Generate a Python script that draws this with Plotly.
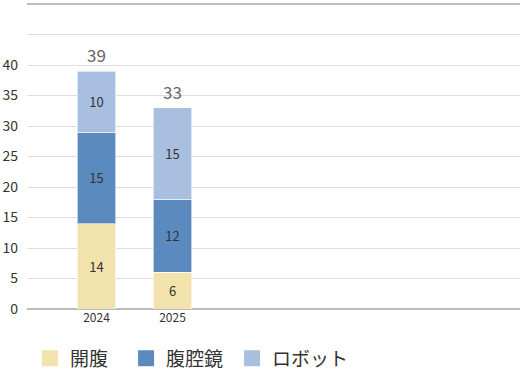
import plotly.graph_objects as go

years = ["2024", "2025"]
series_names = ["開腹", "腹腔鏡", "ロボット"]
open_surgery = [14, 6]
laparoscopic = [15, 12]
robot = [10, 15]
colors = ["#F2E3AD", "#5B8ABE", "#A9BFE0"]
y_ticks = [0, 5, 10, 15, 20, 25, 30, 35, 40, 45, 50]
y_tick_labels = ["0", "5", "10", "15", "20", "25", "30", "35", "40", "", ""]

series = [open_surgery, laparoscopic, robot]
totals = [sum(v) for v in zip(*series)]
xs = list(range(len(years)))

FONT = "Noto Sans CJK JP"
legend_ids = ["legend", "legend2", "legend3"]
legend_x = [0.006, 0.201, 0.416]

fig = go.Figure()
for name, vals, c, lid in zip(series_names, series, colors, legend_ids):
    fig.add_trace(go.Bar(
        x=xs, y=vals, name=name, marker=dict(color=c, line=dict(color="rgba(255,255,255,0.6)", width=1)),
        text=[str(v) for v in vals], textposition="inside", insidetextanchor="middle",
        textfont=dict(size=13, color="#333333", family=FONT),
        width=0.51, showlegend=False, legendgroup=name,
    ))
    fig.add_trace(go.Scatter(
        x=[None], y=[None], mode="markers", name=name, legendgroup=name, legend=lid,
        marker=dict(symbol="square", size=18, color=c),
    ))

for x, t in zip(xs, totals):
    fig.add_annotation(x=x, y=t, text=str(t), showarrow=False, yanchor="bottom", yshift=2,
                       font=dict(size=17, color="#666666", family=FONT))

legend_style = dict(orientation="h", xanchor="left", y=-0.1, yanchor="top",
                    font=dict(size=19, color="#333333", family=FONT), bgcolor="rgba(0,0,0,0)")

fig.update_layout(
    barmode="stack",
    width=520, height=370,
    margin=dict(l=27, r=0, t=4, b=61, autoexpand=False),
    paper_bgcolor="white", plot_bgcolor="white",
    font=dict(family=FONT, color="#333333"),
    xaxis=dict(range=[-0.914, 5.572], tickvals=xs, ticktext=years, showgrid=False,
               zeroline=False, showline=False, ticks="", tickfont=dict(size=12, color="#333333")),
    yaxis=dict(range=[0, 50], tickvals=y_ticks, ticktext=y_tick_labels, showgrid=True,
               gridcolor="#DDDDDD", gridwidth=1, zeroline=True, zerolinecolor="#BBBBBB",
               showline=False, ticks="", ticklabelstandoff=8,
               tickfont=dict(size=14, color="#333333")),
)
for lid, lx in zip(legend_ids, legend_x):
    fig.update_layout({lid: dict(legend_style, x=lx)})

fig.add_shape(type="line", xref="paper", yref="paper", x0=0, x1=1, y0=1, y1=1,
              line=dict(color="#AAAAAA", width=1.5))

fig.write_html("out.html", config={"displayModeBar": False},
               post_script="document.body.style.margin='0';document.body.style.padding='0';")
